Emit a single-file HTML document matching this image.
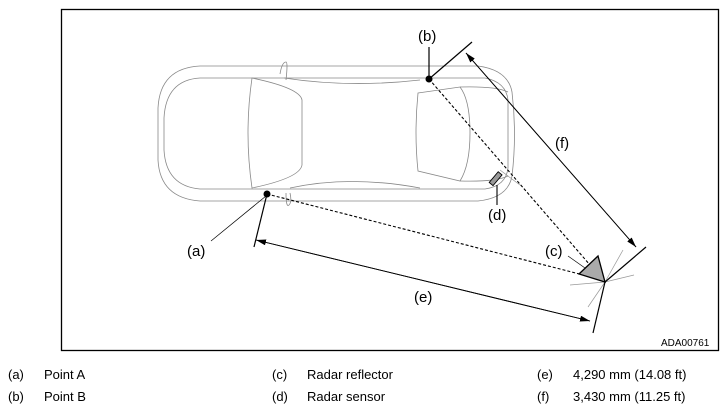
<!DOCTYPE html>
<html><head><meta charset="utf-8"><style>
html,body{margin:0;padding:0;background:#fff;width:728px;height:412px;overflow:hidden}
svg{display:block}
text{font-family:"Liberation Sans",Arial,sans-serif;fill:#000}
</style></head><body>
<svg width="728" height="412" viewBox="0 0 728 412" xmlns="http://www.w3.org/2000/svg">
<defs>
<marker id="ah" markerWidth="10" markerHeight="6" refX="10" refY="3" orient="auto" markerUnits="userSpaceOnUse">
<path d="M0,0 L10,3 L0,6 z" fill="#000"/></marker>
</defs>
<rect x="61.5" y="9.5" width="657" height="341" fill="none" stroke="#000" stroke-width="1.3"/>
<!-- car -->
<g fill="none" stroke="#888" stroke-width="0.8">
<path d="M200,66 L478,66 Q508,70 512,92 Q517,134 512,176 Q508,198 478,201 L200,201 Q160,198 158,160 L158,108 Q160,68 200,66 z"/>
<path d="M200,78 L485,78 Q506,82 508,100 L508,168 Q506,186 485,189 L200,189 Q166,186 164,150 L164,118 Q166,80 200,78 z"/>
<path d="M252,78 Q300,88 302,100 L302,165 Q300,178 252,188 Q244,133 252,78 z"/>
<path d="M280,74 Q282,62 286,62 Q288,62 286,80"/>
<path d="M286,193 Q286,208 289,205 Q292,202 290,193"/>
<path d="M284,78 Q350,88 420,80"/>
<path d="M290,188 Q350,175 420,188"/>
<path d="M418,93 L460,87 Q470,100 470,133 Q470,165 460,181 L418,171 Q414,133 418,93 z"/>
<path d="M460,87 Q496,86 508,92"/>
<path d="M460,181 Q496,182 508,176"/>
</g>
<!-- gray rays near reflector -->
<g stroke="#999" stroke-width="0.7" fill="none">
<path d="M605,282 L623,250"/><path d="M605,282 L634,275"/><path d="M605,282 L570,285"/>
<path d="M605,282 L588,307"/><path d="M500,170 L520,185"/>
</g>
<!-- dashed lines -->
<g stroke="#000" stroke-width="1.1" stroke-dasharray="3,2" fill="none">
<line x1="267" y1="194" x2="603" y2="280"/>
<line x1="429" y1="79" x2="603" y2="280"/>
</g>
<!-- extension lines -->
<g stroke="#000" stroke-width="1.2" fill="none">
<line x1="429" y1="79" x2="472" y2="42"/>
<line x1="429" y1="47" x2="429" y2="79"/>
<line x1="605" y1="282" x2="646" y2="247"/>
<line x1="267" y1="194" x2="254" y2="247"/>
<line x1="605" y1="282" x2="593" y2="333"/>
</g>
<!-- dimension arrows -->
<g stroke="#000" stroke-width="0.9" fill="none">
<line x1="636" y1="247" x2="466" y2="53" marker-end="url(#ah)"/>
<line x1="466" y1="53" x2="636" y2="247" marker-end="url(#ah)"/>
<line x1="590" y1="321" x2="256" y2="240" marker-end="url(#ah)"/>
<line x1="256" y1="240" x2="590" y2="321" marker-end="url(#ah)"/>
</g>
<!-- leaders -->
<g stroke="#000" stroke-width="0.7" fill="none">
<line x1="211" y1="241" x2="266" y2="196"/>
<line x1="568" y1="256" x2="585" y2="268"/>
<line x1="497" y1="185" x2="497" y2="205" stroke-width="1.1"/>
</g>
<circle cx="267" cy="194" r="3.5" fill="#000"/>
<circle cx="429" cy="79" r="3.5" fill="#000"/>
<polygon points="598,256 579,274 605,282" fill="#aaa" stroke="#000" stroke-width="1.3"/>
<rect x="493" y="172" width="5" height="14" fill="#999" stroke="#000" stroke-width="0.9" transform="rotate(40 496 179)"/>
<g font-size="15">
<text x="187" y="256">(a)</text>
<text x="418" y="41">(b)</text>
<text x="545" y="256">(c)</text>
<text x="488" y="220">(d)</text>
<text x="414" y="302">(e)</text>
<text x="555" y="148">(f)</text>
</g>
<text x="661" y="346" font-size="10">ADA00761</text>
<g font-size="13">
<text x="8" y="379">(a)</text><text x="44" y="379">Point A</text>
<text x="8" y="401">(b)</text><text x="44" y="401">Point B</text>
<text x="272" y="379">(c)</text><text x="307" y="379">Radar reflector</text>
<text x="272" y="401">(d)</text><text x="307" y="401">Radar sensor</text>
<text x="537" y="379">(e)</text><text x="573" y="379">4,290 mm (14.08 ft)</text>
<text x="537" y="401">(f)</text><text x="573" y="401">3,430 mm (11.25 ft)</text>
</g>
</svg>
</body></html>
